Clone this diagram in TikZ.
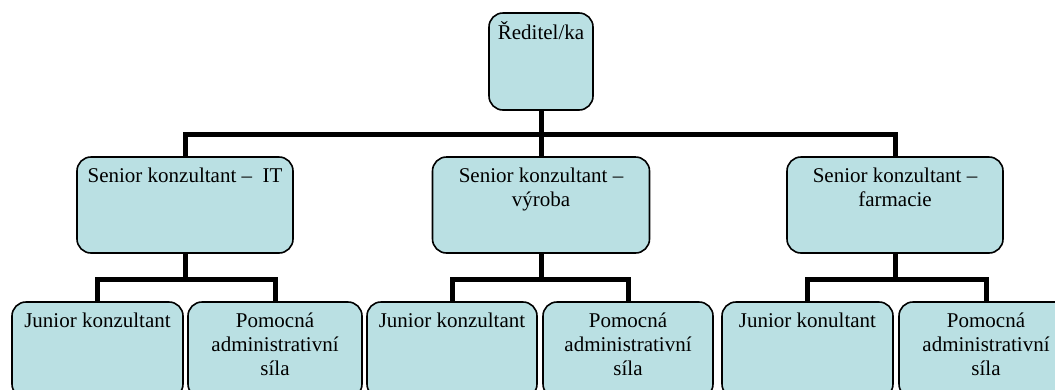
\documentclass[tikz,border=0pt]{standalone}
\usepackage{fontspec}
\setmainfont{Liberation Serif}
\definecolor{boxfill}{RGB}{186,224,227}
\pgfdeclarelayer{bg}
\pgfsetlayers{bg,main}
\begin{document}
\begin{tikzpicture}[x=1pt,y=-1pt,
  box/.style={draw=black, line width=1.6pt, rounded corners=14pt, fill=boxfill, inner sep=0pt, minimum height=96pt},
  txt/.style={anchor=north, align=center, font=\fontsize{21}{24}\selectfont, inner sep=0pt, yshift=-9.2pt},
  conn/.style={line width=5pt, line join=miter}]
\useasboundingbox (0,0) rectangle (1055,389);
\clip (0,0) rectangle (1055,389);
% nodes
\node[box, minimum width=104pt, minimum height=97pt, label={[txt]north:{\strut Ředitel/ka}}] (top) at (541,61.5) {};
\node[box, minimum width=216pt, label={[txt]north:{\strut Senior konzultant –\ \ IT}}] (s1) at (185,205) {};
\node[box, minimum width=217pt, label={[txt]north:{\strut Senior konzultant –\\výroba}}] (s2) at (541,205) {};
\node[box, minimum width=216pt, label={[txt]north:{\strut Senior konzultant –\\farmacie}}] (s3) at (895,205) {};
\node[box, minimum width=171pt, label={[txt]north:{\strut Junior konzultant}}] (j1) at (97.5,350) {};
\node[box, minimum width=174pt, label={[txt]north:{\strut Pomocná\\administrativní\\síla}}] (p1) at (275,350) {};
\node[box, minimum width=170pt, label={[txt]north:{\strut Junior konzultant}}] (j2) at (452,350) {};
\node[box, minimum width=170pt, label={[txt]north:{\strut Pomocná\\administrativní\\síla}}] (p2) at (628,350) {};
\node[box, minimum width=171pt, label={[txt]north:{\strut Junior konultant}}] (j3) at (807.5,350) {};
\node[box, minimum width=174pt, label={[txt]north:{\strut Pomocná\\administrativní\\síla}}] (p3) at (986,350) {};
% connectors
\coordinate (barT) at (0,134);
\coordinate (barB) at (0,279);
\begin{pgfonlayer}{bg}
\draw[conn] (top.south) -- (top.south |- barT);
\draw[conn] (s1.north) -- (s1.north |- barT) -- (s3.north |- barT) -- (s3.north);
\draw[conn] (s2.north) -- (s2.north |- barT);
\draw[conn] (s1.south) -- (s1.south |- barB);
\draw[conn] (j1.north) -- (j1.north |- barB) -- (p1.north |- barB) -- (p1.north);
\draw[conn] (s2.south) -- (s2.south |- barB);
\draw[conn] (j2.north) -- (j2.north |- barB) -- (p2.north |- barB) -- (p2.north);
\draw[conn] (s3.south) -- (s3.south |- barB);
\draw[conn] (j3.north) -- (j3.north |- barB) -- (p3.north |- barB) -- (p3.north);
\end{pgfonlayer}
\end{tikzpicture}
\end{document}
